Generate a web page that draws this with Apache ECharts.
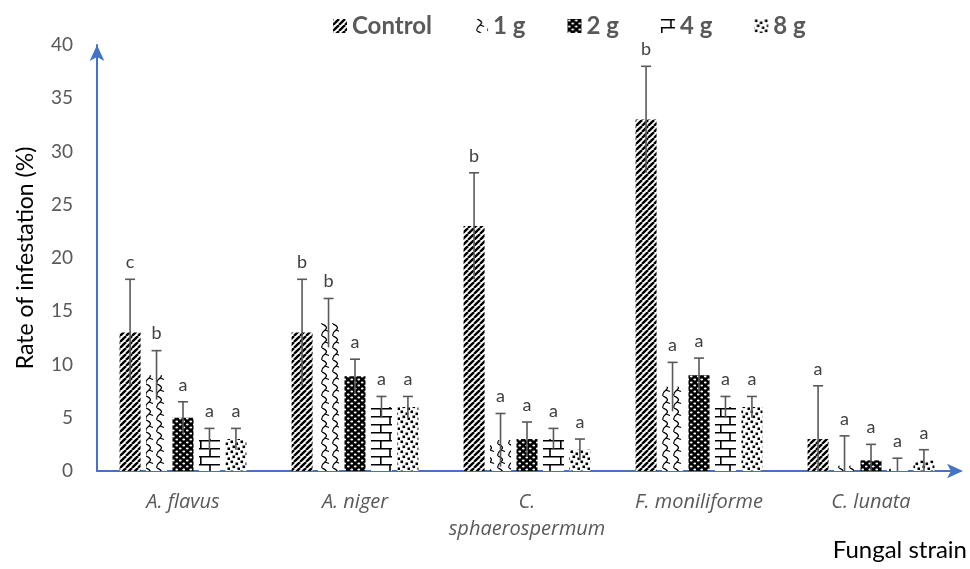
<!DOCTYPE html>
<html><head><meta charset="utf-8">
<script src="https://cdn.jsdelivr.net/npm/echarts@6/dist/echarts.min.js"></script>
<style>html,body{margin:0;padding:0;background:#fff}#c{width:970px;height:569px}</style>
</head><body><div id="c"></div>
<script>
const categories = ['A. flavus', 'A. niger', 'C.\nsphaerospermum', 'F. moniliforme', 'C. lunata'];
const seriesNames = ['Control', '1 g', '2 g', '4 g', '8 g'];
const control = [13, 13, 23, 33, 3];
const g1 = [9, 13.9, 2.9, 7.9, 0.5];
const g2 = [5, 8.9, 3, 9, 1];
const g4 = [3, 6, 3, 6, 0.2];
const g8 = [3, 6, 2, 6, 1];
const controlErr = [5, 5, 5, 5, 5];
const g1Err = [2.3, 2.3, 2.5, 2.3, 2.8];
const g2Err = [1.5, 1.6, 1.6, 1.6, 1.5];
const g4Err = [1, 1, 1, 1, 1];
const g8Err = [1, 1, 1, 1, 1];
const controlLetters = ['c', 'b', 'b', 'b', 'a'];
const g1Letters = ['b', 'b', 'a', 'a', 'a'];
const g2Letters = ['a', 'a', 'a', 'a', 'a'];
const g4Letters = ['a', 'a', 'a', 'a', 'a'];
const g8Letters = ['a', 'a', 'a', 'a', 'a'];
const yTicks = [0, 5, 10, 15, 20, 25, 30, 35, 40];

const values = [control, g1, g2, g4, g8];
const errs = [controlErr, g1Err, g2Err, g4Err, g8Err];
const letters = [controlLetters, g1Letters, g2Letters, g4Letters, g8Letters];

const FONT = 'Lato, "Open Sans", sans-serif';
const BAR_W = 21, GAP = 0.26;

function pattern(kind) {
  const c = document.createElement('canvas');
  let w = 8, h = 8;
  if (kind === 'stripe') { w = 6; h = 6; }
  if (kind === 'wave') { w = 11; h = 12; }
  if (kind === 'dotsW') { w = 7; h = 6; }
  if (kind === 'brick') { w = 20; h = 16; }
  if (kind === 'dotsB') { w = 10; h = 10; }
  c.width = w; c.height = h;
  const g = c.getContext('2d');
  g.fillStyle = '#fff'; g.fillRect(0, 0, w, h);
  g.strokeStyle = '#000'; g.fillStyle = '#000';
  if (kind === 'stripe') {
    g.lineWidth = 2.4;
    for (let k = -1; k <= 1; k++) {
      g.beginPath(); g.moveTo(k * w, h); g.lineTo(k * w + w, 0); g.stroke();
    }
  } else if (kind === 'wave') {
    g.lineWidth = 1.3;
    g.beginPath();
    g.moveTo(3, 0);
    g.quadraticCurveTo(10, 3, 6, 6);
    g.quadraticCurveTo(2, 9, 3, 12);
    g.stroke();
    g.beginPath(); g.moveTo(6, 6); g.lineTo(10, 7.5); g.stroke();
  } else if (kind === 'dotsW') {
    g.fillStyle = '#000'; g.fillRect(0, 0, w, h);
    g.fillStyle = '#fff';
    g.beginPath(); g.ellipse(1.75, 1.5, 1.4, 0.9, 0, 0, Math.PI * 2); g.fill();
    g.beginPath(); g.ellipse(5.25, 4.5, 1.4, 0.9, 0, 0, Math.PI * 2); g.fill();
  } else if (kind === 'brick') {
    g.lineWidth = 1.6;
    g.beginPath();
    g.moveTo(0, 0.8); g.lineTo(w, 0.8);
    g.moveTo(0, 8.8); g.lineTo(w, 8.8);
    g.moveTo(10, 0); g.lineTo(10, 8);
    g.moveTo(0.8, 8); g.lineTo(0.8, 16);
    g.stroke();
  } else if (kind === 'dotsB') {
    const pts = [[0.5, 0.5], [5.5, 2.5], [2.5, 5.5], [7.5, 7.5]];
    pts.forEach(p => g.fillRect(p[0], p[1], 2.6, 2.6));
  }
  return { image: c, repeat: 'repeat' };
}
const patterns = [pattern('stripe'), pattern('wave'), pattern('dotsW'), pattern('brick'), pattern('dotsB')];

const series = [];
seriesNames.forEach((n, i) => {
  series.push({
    name: n, type: 'bar', data: values[i], barWidth: BAR_W, barGap: (GAP * 100) + '%',
    itemStyle: { color: patterns[i] }, z: 2
  });
});
seriesNames.forEach((n, i) => {
  series.push({
    name: 'err_' + n, type: 'custom', z: 5,
    data: values[i].map((v, j) => [j, v, errs[i][j]]),
    encode: { x: 0, y: 1 },
    renderItem: function (params, api) {
      const ci = api.value(0), v = api.value(1), e = api.value(2);
      const off = (i - 2) * BAR_W * (1 + GAP);
      const top = api.coord([ci, v + e]);
      const bot = api.coord([ci, Math.max(0, v - e)]);
      const x = top[0] + off;
      const st = { stroke: '#595959', lineWidth: 1.6 };
      return {
        type: 'group', children: [
          { type: 'line', shape: { x1: x, y1: top[1], x2: x, y2: bot[1] }, style: st },
          { type: 'line', shape: { x1: x - 5, y1: top[1], x2: x + 5, y2: top[1] }, style: st },
          { type: 'text', style: { text: letters[i][params.dataIndex], x: x, y: top[1] - 8, align: 'center', verticalAlign: 'bottom', fill: '#404040', font: '18px ' + FONT } }
        ]
      };
    }
  });
});

const chart = echarts.init(document.getElementById('c'), null, { renderer: 'canvas' });
chart.setOption({
  animation: false,
  backgroundColor: '#fff',
  grid: { left: 97, right: 13, top: 45, bottom: 98 },
  legend: {
    data: seriesNames, top: 9, left: 328, itemWidth: 14, itemHeight: 14, itemGap: 42, icon: 'rect',
    textStyle: { fontFamily: FONT, fontWeight: 'bold', fontSize: 24, color: '#595959' }
  },
  xAxis: {
    type: 'category', data: categories,
    axisLine: { lineStyle: { color: '#4472C4', width: 2 }, symbol: ['none', 'arrow'], symbolSize: [11, 16], symbolOffset: [0, 6] },
    axisTick: { show: false },
    axisLabel: { interval: 0, hideOverlap: false, fontFamily: '"Open Sans", sans-serif', fontStyle: 'italic', fontSize: 20, color: '#595959', margin: 18, lineHeight: 27 }
  },
  yAxis: {
    type: 'value', min: 0, max: 40, interval: 5,
    name: 'Rate of infestation (%)', nameLocation: 'middle', nameGap: 60,
    nameTextStyle: { fontFamily: FONT, fontSize: 23, color: '#000' },
    axisLine: { show: true, lineStyle: { color: '#4472C4', width: 2 }, symbol: ['none', 'arrow'], symbolSize: [11, 16], symbolOffset: [0, 0] },
    axisTick: { show: false }, splitLine: { show: false },
    axisLabel: { fontFamily: FONT, fontSize: 19, color: '#595959', margin: 24,
      formatter: v => yTicks.indexOf(v) >= 0 ? String(v) : '' }
  },
  graphic: [{ type: 'text', right: 3, top: 538, style: { text: 'Fungal strain', font: '24px ' + FONT, fill: '#000' } }],
  series: series
});
</script></body></html>
